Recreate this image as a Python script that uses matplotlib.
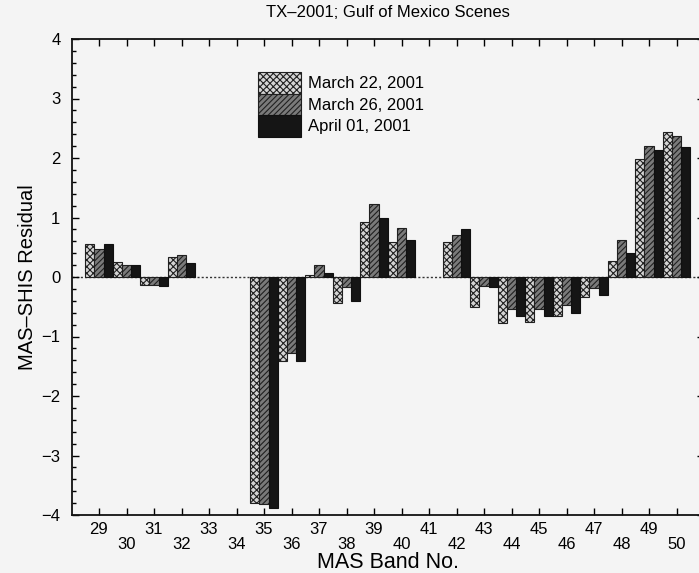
import numpy as np
import matplotlib
matplotlib.use("Agg")
import matplotlib.pyplot as plt
from matplotlib.ticker import MultipleLocator, FixedLocator

plt.rcParams['font.family'] = ['Liberation Sans', 'DejaVu Sans']
plt.rcParams['hatch.linewidth'] = 0.8

bands = list(range(29, 51))
nan = np.nan
mar22 = [0.55, 0.25, -0.14, 0.33, nan, nan, -3.80, -1.41, 0.03, -0.44, 0.92, 0.58,
         nan, 0.59, -0.51, -0.77, -0.75, -0.66, -0.34, 0.27, 1.99, 2.43]
mar26 = [0.47, 0.20, -0.14, 0.37, nan, nan, -3.81, -1.28, 0.21, -0.17, 1.23, 0.82,
         nan, 0.71, -0.15, -0.53, -0.53, -0.47, -0.19, 0.63, 2.21, 2.37]
apr01 = [0.55, 0.20, -0.15, 0.24, nan, nan, -3.89, -1.41, 0.06, -0.41, 0.99, 0.63,
         nan, 0.80, -0.17, -0.65, -0.66, -0.61, -0.31, 0.41, 2.14, 2.18]
series_labels = ['March 22, 2001', 'March 26, 2001', 'April 01, 2001']

title = 'TX\u20132001; Gulf of Mexico Scenes'
xlabel = 'MAS Band No.'
ylabel = 'MAS\u2013SHIS Residual'

bg = '#f4f4f4'
fig = plt.figure(figsize=(6.99, 5.73), dpi=100, facecolor=bg)
ax = fig.add_axes([71.5/699, 58/573, (704-71.5)/699, (515-39)/573])
ax.set_facecolor(bg)

x = np.array(bands, dtype=float)
w = 1/3
styles = [
    dict(color='#d4d4d4', hatch='xxxxx', edgecolor='#202020'),
    dict(color='#7a7a7a', hatch='//////', edgecolor='#202020'),
    dict(color='#151515', hatch=None, edgecolor='#101010'),
]
ax.axhline(0, color='#333333', linestyle=(0, (1.5, 1.5)), linewidth=1.0, zorder=1)
for i, (vals, lab, st) in enumerate(zip([mar22, mar26, apr01], series_labels, styles)):
    ax.bar(x + (i - 1) * w, vals, width=w, color=st['color'], hatch=st['hatch'],
           edgecolor=st['edgecolor'], linewidth=0.8, label=lab, zorder=2)

ax.set_xlim(28, 51)
ax.set_ylim(-4, 4)

odd = [b for b in bands if b % 2 == 1]
even = [b for b in bands if b % 2 == 0]
ax.xaxis.set_major_locator(FixedLocator(odd))
ax.xaxis.set_minor_locator(FixedLocator(even))
ax.set_xticklabels([str(b) for b in odd])
ax.set_xticklabels([str(b) for b in even], minor=True)
ax.tick_params(axis='x', which='major', direction='in', length=5, width=1, top=True, pad=5, labelsize=12)
ax.tick_params(axis='x', which='minor', direction='in', length=5, width=1, top=True, pad=16, labelsize=12)

ax.yaxis.set_major_locator(MultipleLocator(1))
ax.yaxis.set_minor_locator(MultipleLocator(0.2))
ax.tick_params(axis='y', which='major', direction='in', length=5, width=1, right=True, pad=8, labelsize=12)
ax.tick_params(axis='y', which='minor', direction='in', length=3, width=1, right=False)

for s in ax.spines.values():
    s.set_linewidth(1.3)
    s.set_color('#111111')

ax.set_title(title, fontsize=12, pad=16)
ax.set_xlabel(xlabel, fontsize=15.5, labelpad=0)
ax.set_ylabel(ylabel, fontsize=14.5, labelpad=3)

leg = ax.legend(loc='upper left', bbox_to_anchor=(258/699, 1 - 72/573),
                bbox_transform=fig.transFigure,
                frameon=False, fontsize=12, handlelength=2.55, handleheight=1.61,
                labelspacing=0, handletextpad=0.45, borderpad=0, borderaxespad=0)

fig.savefig('out.png', dpi=100, facecolor=bg)
